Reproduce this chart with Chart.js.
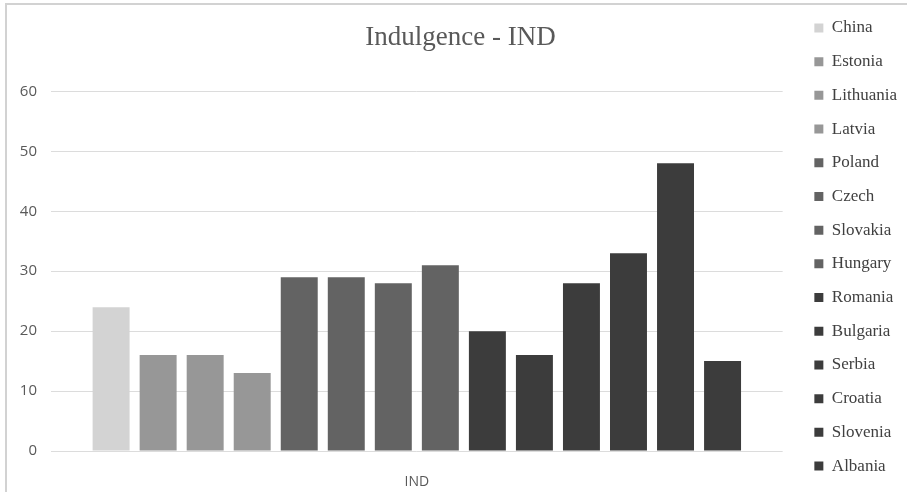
<!DOCTYPE html>
<html>
<head>
<meta charset="utf-8">
<script src="https://cdn.jsdelivr.net/npm/chart.js@4.4.1/dist/chart.umd.min.js"></script>
<style>
  body { margin: 0; background: #fff; overflow: hidden; }
  #frame { position: absolute; left: 5px; top: 3px; width: 1000px; height: 600px;
           border-top: 2px solid #d2d2d2; border-left: 2px solid #d2d2d2; }
  #wrap { position: absolute; left: 0; top: 0; width: 907px; height: 492px; }
</style>
</head>
<body>
<div id="frame"></div>
<div id="wrap"><canvas id="chart"></canvas></div>
<script>
const categories = ['IND'];
const countries = ['China', 'Estonia', 'Lithuania', 'Latvia', 'Poland', 'Czech', 'Slovakia',
                   'Hungary', 'Romania', 'Bulgaria', 'Serbia', 'Croatia', 'Slovenia', 'Albania'];
const values = [24, 16, 16, 13, 29, 29, 28, 31, 20, 16, 28, 33, 48, 15];
const yTicks = [0, 10, 20, 30, 40, 50, 60];

// grey shades by group
const barColors = ['#d3d3d3', '#979797', '#979797', '#979797', '#636363', '#636363', '#636363',
                   '#636363', '#3c3c3c', '#3c3c3c', '#3c3c3c', '#3c3c3c', '#3c3c3c', '#3c3c3c'];

const datasets = countries.map((name, i) => ({
    label: name,
    data: [values[i]],
    backgroundColor: barColors[i],
    borderWidth: 0,
    categoryPercentage: 0.9,
    barPercentage: 0.786
}));

new Chart(document.getElementById('chart'), {
    type: 'bar',
    data: { labels: categories, datasets: datasets },
    options: {
        responsive: true,
        maintainAspectRatio: false,
        animation: false,
        layout: { padding: { left: 14, right: 0, top: 2, bottom: 0 } },
        plugins: {
            title: {
                display: true,
                text: 'Indulgence - IND',
                color: '#595959',
                font: { family: 'Liberation Serif', size: 27, weight: 'normal' },
                padding: { top: 20, bottom: 37 }
            },
            legend: {
                position: 'right',
                labels: {
                    color: '#404040',
                    font: { family: 'Liberation Serif', size: 17 },
                    boxWidth: 9,
                    boxHeight: 9,
                    padding: 16.7
                }
            },
            tooltip: { enabled: false }
        },
        scales: {
            x: {
                grid: { display: false },
                border: { display: false },
                ticks: { color: '#595959', font: { family: 'Open Sans', size: 14 }, padding: 15 },
                afterFit: s => { s.height = 41; }
            },
            y: {
                min: 0,
                max: 60,
                afterBuildTicks: s => { s.ticks = yTicks.map(v => ({ value: v })); },
                grid: { color: '#dcdcdc', drawTicks: false },
                border: { display: false },
                ticks: { color: '#595959', font: { family: 'Open Sans', size: 15 }, padding: 14 },
                afterFit: s => { s.width = 37; }
            },
            // spacer between plot and legend
            gap: {
                type: 'linear',
                position: 'right',
                grid: { display: false },
                border: { display: false },
                ticks: { display: false },
                afterFit: s => { s.width = 15; }
            }
        }
    }
});
</script>
</body>
</html>
